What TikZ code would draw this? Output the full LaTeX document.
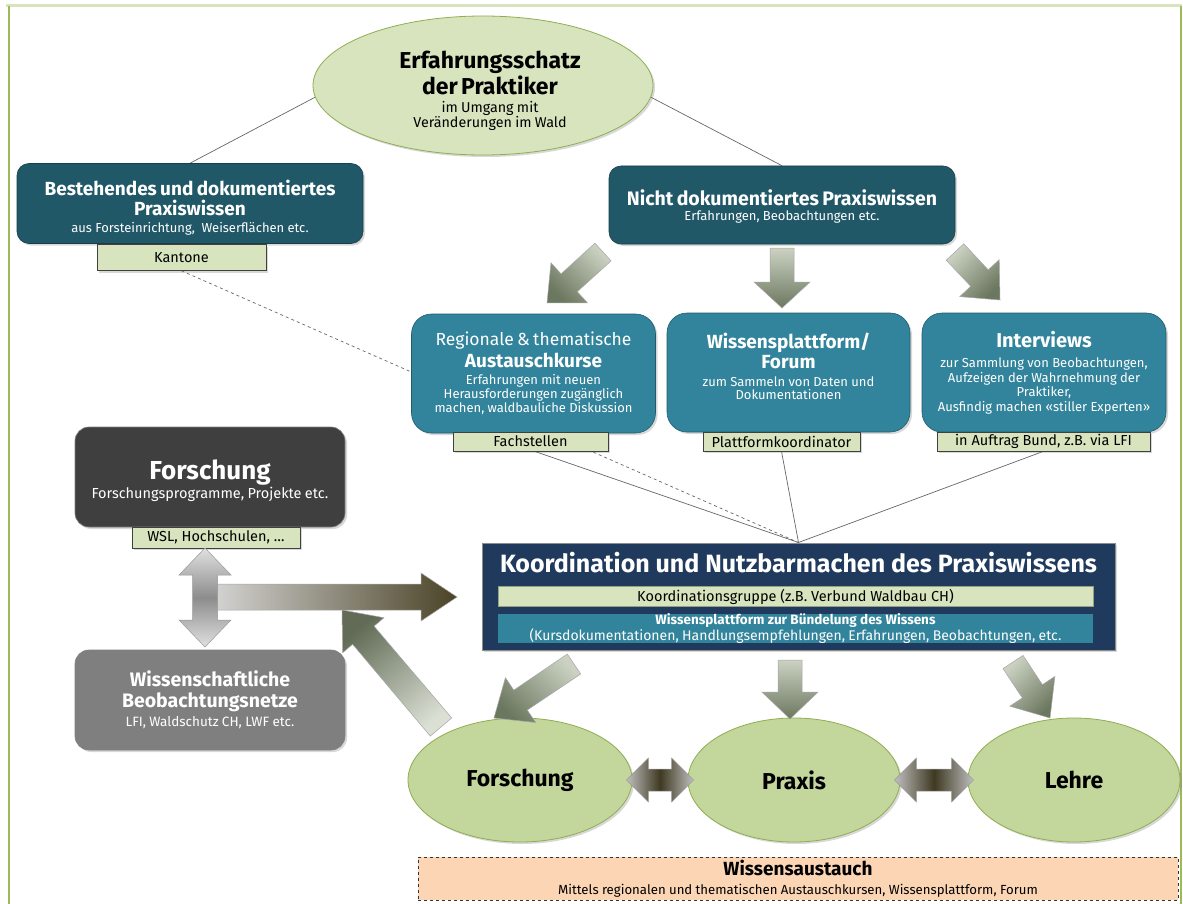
\documentclass[tikz,border=0pt]{standalone}
\usepackage{fontspec}
\setmainfont{Fira Sans}
\usetikzlibrary{calc,shadows,shapes.geometric}
\pgfdeclarelayer{bg}
\pgfsetlayers{bg,main}
\definecolor{tealdark}{HTML}{215868}
\definecolor{tealmid}{HTML}{31849B}
\definecolor{lgreen}{HTML}{D7E4BD}
\definecolor{ellA}{HTML}{D7E4BD}
\definecolor{ellB}{HTML}{C3D69B}
\definecolor{ellline}{HTML}{8FAE52}
\definecolor{navy}{HTML}{203A5E}
\definecolor{fgray}{HTML}{3F3F3F}
\definecolor{wgray}{HTML}{7F7F7F}
\definecolor{peach}{HTML}{FCD5B5}
\definecolor{frameA}{HTML}{D7E4BD}
\definecolor{frameB}{HTML}{9BBB59}
\definecolor{arrlight}{HTML}{CBD2C2}
\definecolor{arrdark}{HTML}{6C775F}
\definecolor{olive}{HTML}{4A4327}
\newcommand\fs[2]{\fontsize{#1}{#2}\selectfont}
\newcommand\blockarrow[6]{%
  \coordinate (bah) at ($(#2)!#5!(#1)$);
  \path[#6] ($(#1)!#3!90:(#2)$) -- ($(bah)!#3!90:(#2)$) -- ($(bah)!#4!90:(#2)$) -- (#2)
    -- ($(bah)!#4!-90:(#2)$) -- ($(bah)!#3!-90:(#2)$) -- ($(#1)!#3!-90:(#2)$) -- cycle;}
\newcommand\dblarrow[6]{%
  \coordinate (dha) at ($(#1)!#5!(#2)$);
  \coordinate (dhb) at ($(#2)!#5!(#1)$);
  \path[#6] (#1) -- ($(dha)!#4!90:(#2)$) -- ($(dha)!#3!90:(#2)$) -- ($(dhb)!#3!90:(#2)$)
    -- ($(dhb)!#4!90:(#2)$) -- (#2) -- ($(dhb)!#4!-90:(#2)$) -- ($(dhb)!#3!-90:(#2)$)
    -- ($(dha)!#3!-90:(#2)$) -- ($(dha)!#4!-90:(#2)$) -- cycle;}
\tikzset{
  shad/.style={drop shadow={shadow xshift=2pt,shadow yshift=-2pt,opacity=.3}},
  darkbox/.style={rectangle,rounded corners=12pt,fill=tealdark,draw=tealdark!70!black,line width=.6pt,inner sep=2pt,shad},
  boxtext/.style={text=white,align=center,inner sep=0pt},
  midbox/.style={rectangle,rounded corners=20pt,fill=tealmid,draw=tealmid!70!black,line width=.6pt,text=white,align=center,inner sep=2pt,shad,minimum width=244pt,minimum height=119pt,text width=238pt},
  graybox/.style={rectangle,rounded corners=14pt,draw=black!50,line width=.6pt,text=white,align=center,inner sep=2pt,shad,minimum width=270pt,minimum height=100pt,text width=262pt},
  tagbox/.style={rectangle,fill=lgreen,draw=black!75,line width=.6pt,inner sep=0pt,text=black,align=center,shad,font=\fs{14.5}{16}},
  ellnode/.style={ellipse,fill=ellB,draw=ellline,line width=.8pt,inner sep=0pt,align=center,shad},
  conn/.style={draw=black!60,line width=.7pt},
  garrow/.style={draw=black!35,line width=.5pt,top color=arrlight,bottom color=arrdark},
  dbl/.style={draw=black!40,line width=.5pt,left color=black!25,right color=black!25,middle color=olive!85!black},
}
\begin{document}
\begin{tikzpicture}[x=1pt,y=-1pt]
\useasboundingbox (0,0) rectangle (1183,904);

% top ellipse
\node[ellnode,fill=ellA,minimum width=340pt,minimum height=139pt] (erf) at (483,85.5) {};
\node[align=center,text width=220pt,inner sep=0pt] (erftext) at (490,91)
  {{\fs{23}{26}\bfseries Erfahrungsschatz\\der Praktiker\par}\fs{14.3}{17.5}im Umgang mit\\Veränderungen im Wald};

% top boxes
\node[darkbox,minimum width=346pt,minimum height=80pt] (best) at (190,203.5) {};
\node[boxtext,text width=336pt] (besttext) at (190,207.5)
  {{\fs{19}{20.5}\bfseries Bestehendes und dokumentiertes\\Praxiswissen\par}\fs{13}{17}aus Forsteinrichtung,~ Weiserflächen etc.\par};
\node[tagbox,minimum width=169pt,minimum height=26pt] (kant) at (181.5,257.5) {Kantone};
\node[darkbox,minimum width=346pt,minimum height=78pt] (nicht) at (782,205) {};
\node[boxtext,text width=336pt] (nichttext) at (782,206)
  {{\fs{19.5}{21}\bfseries Nicht dokumentiertes Praxiswissen\par}\fs{13}{15}Erfahrungen, Beobachtungen etc.\par};

% middle boxes
\node[midbox] (reg) at (533.5,373.5)
  {{\fs{17.5}{20}Regionale \& thematische\par}{\fs{19}{22}\bfseries Austauschkurse\par}\vspace{3pt}\fs{13}{14}Erfahrungen mit neuen\\Herausforderungen zugänglich\\machen, waldbauliche Diskussion\par};
\node[tagbox,minimum width=155pt,minimum height=19pt] (fach) at (530.5,441.5) {Fachstellen};
\node[midbox,minimum width=243pt] (wiss) at (788.5,372.5)
  {{\fs{19}{20}\bfseries Wissensplattform/\\Forum\par}\fs{13}{18}zum Sammeln von Daten und\par\fs{13}{13.5}Dokumentationen\par\vspace{12pt}};
\node[tagbox,minimum width=157pt,minimum height=19pt] (plat) at (781.5,441.5) {Plattformkoordinator};
\node[midbox] (intv) at (1044,372.5)
  {{\fs{20}{22}\bfseries Interviews\par}\vspace{6pt}\fs{13}{14.5}zur Sammlung von Beobachtungen,\\Aufzeigen der Wahrnehmung der\\Praktiker,\\Ausfindig machen «stiller Experten»\par};
\node[tagbox,minimum width=213pt,minimum height=19pt] (itag) at (1043.5,441.5) {in Auftrag Bund, z.B. via LFI};

% left boxes
\node[graybox,fill=fgray] (forsch) at (210,477) {};
\node[boxtext,text width=262pt] (forschtext) at (210,481)
  {{\fs{26}{28}\bfseries Forschung\par}\vspace{1pt}\fs{14.5}{16}Forschungsprogramme, Projekte etc.\par};
\node[tagbox,minimum width=168pt,minimum height=21pt] (wsl) at (216,537.5) {WSL, Hochschulen, …};
\node[graybox,fill=wgray] (netz) at (210,700)
  {{\fs{19.5}{21}\bfseries Wissenschaftliche\\Beobachtungsnetze\par}\vspace{4pt}\fs{13.5}{15}LFI, Waldschutz CH, LWF etc.\par};

% coordination box
\node[rectangle,fill=navy,draw=black!45,line width=1pt,minimum width=633pt,minimum height=107pt,shad] (koord) at (798.5,596.5) {};
\node[text=white,inner sep=0pt,font=\fs{25}{27}\bfseries] (ktitle) at (798.5,563) {Koordination und Nutzbarmachen des Praxiswissens};
\node[rectangle,fill=lgreen,draw=lgreen!70!black,line width=.4pt,minimum width=595pt,minimum height=20pt,inner sep=0pt,font=\fs{14.5}{15}] (kgrp) at (795.5,596.5) {Koordinationsgruppe (z.B. Verbund Waldbau CH)};
\node[rectangle,fill=tealmid,minimum width=595pt,minimum height=29pt,inner sep=0pt,text=white,align=center,text width=595pt] (wplat) at (795.5,628.5)
  {{\fs{13.5}{13}\bfseries Wissensplattform zur Bündelung des Wissens\par}\fs{14}{13.5}(Kursdokumentationen, Handlungsempfehlungen, Erfahrungen, Beobachtungen, etc.\par};

% bottom ellipses
\node[ellnode,minimum width=224pt,minimum height=124pt,font=\fs{23}{25}\bfseries] (ef) at (520,780) {Forschung};
\node[ellnode,minimum width=212pt,minimum height=124pt,font=\fs{23}{25}\bfseries] (ep) at (794,780) {Praxis};
\node[ellnode,minimum width=212pt,minimum height=124pt,font=\fs{23}{25}\bfseries] (el) at (1074,780) {Lehre};

% Wissensaustauch
\node[rectangle,fill=peach,draw=black!80,dashed,line width=.6pt,minimum width=760pt,minimum height=43pt,inner sep=0pt,align=center,text width=756pt] (waus) at (798,878.5)
  {{\fs{19}{20}\bfseries Wissensaustauch\par}\fs{13.2}{18.5}Mittels regionalen und thematischen Austauschkursen, Wissensplattform, Forum\par};

% background, frame and connectors (behind)
\begin{pgfonlayer}{bg}
\fill[white] (0,0) rectangle (1183,904);
\draw[frameA,line width=3pt] (6,6) -- (1182,6);
\draw[frameB,line width=1.5pt] (9,6) -- (9,904);
\draw[frameB,line width=1.5pt] (1181,6) -- (1181,904);
\draw[conn] (erf.184) -- (best.north);
\draw[conn] (erf.-4) -- (nicht.north);
\draw[conn,dashed] (kant.south) -- (koord.north);
\draw[conn] ($(fach.south)+(4,0)$) -- (koord.north);
\draw[conn] (plat.south) -- (koord.north);
\draw[conn] (itag.south) -- (koord.north);
\end{pgfonlayer}

% block arrows from Nicht dokumentiertes
\coordinate (a1t) at (603,252); \coordinate (a1h) at (547,303);
\coordinate (a2t) at (782,248); \coordinate (a2h) at (782,308);
\coordinate (a3t) at (955,252); \coordinate (a3h) at (1000,300);
\blockarrow{a1t}{a1h}{12pt}{27pt}{30pt}{garrow,shading angle=-45}
\blockarrow{a2t}{a2h}{12pt}{28pt}{26pt}{garrow}
\blockarrow{a3t}{a3h}{12pt}{27pt}{30pt}{garrow,shading angle=45}

% block arrows from Koordination
\coordinate (b1t) at (574,664); \coordinate (b1h) at (494,718);
\coordinate (b2t) at (790,660); \coordinate (b2h) at (790,719);
\coordinate (b3t) at (1013,662); \coordinate (b3h) at (1050,718);
\blockarrow{b1t}{b1h}{12pt}{27pt}{32pt}{garrow,shading angle=-45}
\blockarrow{b2t}{b2h}{12pt}{28pt}{27pt}{garrow}
\blockarrow{b3t}{b3h}{12pt}{27pt}{32pt}{garrow,shading angle=45}

% left T arrows
\coordinate (ht) at (205,597); \coordinate (hh) at (457,597);
\blockarrow{ht}{hh}{13pt}{24pt}{36pt}{draw=black!35,line width=.5pt,left color=black!15,right color=olive}
\coordinate (vt) at (205,548); \coordinate (vb) at (205,647);
\dblarrow{vt}{vb}{12.5pt}{26pt}{27pt}{draw=black!40,line width=.5pt,top color=black!12,bottom color=black!12,middle color=black!45}
\coordinate (ut) at (441,727); \coordinate (uh) at (342,610);
\blockarrow{ut}{uh}{14pt}{27pt}{33pt}{draw=black!35,line width=.5pt,top color=arrdark!90!black,bottom color=arrlight!70!white,shading angle=40}

% double arrows between ellipses
\coordinate (d1a) at ($(ef.east)+(-6,0)$); \coordinate (d1b) at ($(ep.west)+(6,0)$);
\coordinate (d2a) at ($(ep.east)+(-6,0)$); \coordinate (d2b) at ($(el.west)+(6,0)$);
\dblarrow{d1a}{d1b}{11pt}{22pt}{22pt}{dbl}
\dblarrow{d2a}{d2b}{11pt}{22pt}{22pt}{dbl}
\end{tikzpicture}
\end{document}
